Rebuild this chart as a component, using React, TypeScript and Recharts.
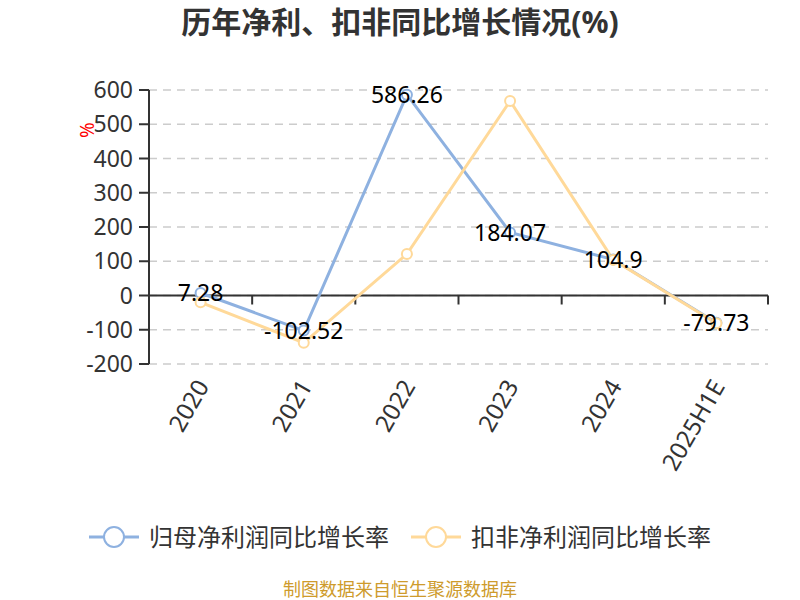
import React from "react";
import {
  CartesianGrid,
  LabelList,
  Line,
  LineChart,
  ReferenceLine,
  XAxis,
  YAxis,
} from "recharts";

const years = ["2020", "2021", "2022", "2023", "2024", "2025H1E"];
const netProfitGrowth = [7.28, -102.52, 586.26, 184.07, 104.9, -79.73];
const deductedGrowth = [-20, -138, 121, 568, 104, -81];
const yTicks = [-200, -100, 0, 100, 200, 300, 400, 500, 600];

const BLUE = "#8EB1E0";
const YELLOW = "#FFD999";
const FONT = '"Noto Sans", "Noto Sans CJK SC", sans-serif';

const W = 800;
const H = 600;
const margin = { top: 90, right: 32, bottom: 136, left: 0 };
const yAxisWidth = 149;
const plotWidth = W - margin.left - margin.right - yAxisWidth;
const halfBand = plotWidth / (years.length * 2);

const data = years.map((year, i) => ({
  year,
  np: netProfitGrowth[i],
  kf: deductedGrowth[i],
}));

function XTick({ x, y, payload }: any) {
  const tx = x + 2;
  const ty = y + 10;
  return (
    <text
      x={tx}
      y={ty}
      transform={`rotate(-60 ${tx} ${ty})`}
      textAnchor="end"
      dy="0.35em"
      fill="#333"
      fontSize={24}
    >
      {payload.value}
    </text>
  );
}

// zero line with tick marks at category boundaries, like an axis "on zero"
function ZeroAxis(props: any) {
  const { x1, y1, x2 } = props;
  const marks = [];
  for (let i = 0; i <= years.length; i++) {
    const x = x1 + ((x2 - x1) * i) / years.length;
    marks.push(<line key={i} x1={x} y1={y1} x2={x} y2={y1 + 9} stroke="#333" strokeWidth={2} />);
  }
  return (
    <g>
      <line x1={x1} y1={y1} x2={x2} y2={y1} stroke="#333" strokeWidth={2} />
      {marks}
    </g>
  );
}

function ValueLabel(p: any) {
  const x = p.x ?? p.viewBox?.x;
  const y = p.y ?? p.viewBox?.y;
  return (
    <text x={x} y={y} textAnchor="middle" dy="0.35em" fill="#000" fontSize={23}>
      {p.value}
    </text>
  );
}

function LegendIcon({ color }: { color: string }) {
  return (
    <svg width={50} height={24} style={{ display: "block" }}>
      <line x1={0} y1={12} x2={50} y2={12} stroke={color} strokeWidth={3} />
      <circle cx={25} cy={12} r={10} fill="#fff" stroke={color} strokeWidth={2} />
    </svg>
  );
}

export default function App() {
  return (
    <div
      style={{
        position: "absolute",
        left: 0,
        top: 0,
        width: W,
        height: H,
        background: "#fff",
        fontFamily: FONT,
      }}
    >
      <div
        style={{
          position: "absolute",
          top: 2,
          width: W,
          textAlign: "center",
          fontSize: 30,
          lineHeight: "40px",
          fontWeight: "bold",
          color: "#333",
        }}
      >
        历年净利、扣非同比增长情况(%)
      </div>
      <div
        style={{
          position: "absolute",
          left: 79,
          top: 118,
          color: "red",
          fontSize: 19,
          lineHeight: "24px",
          transform: "rotate(-90deg)",
        }}
      >
        %
      </div>
      <LineChart width={W} height={H} data={data} margin={margin}>
        <CartesianGrid vertical={false} stroke="#ccc" strokeDasharray="8 6" strokeWidth={1.5} />
        <XAxis
          dataKey="year"
          axisLine={false}
          tickLine={false}
          height={100}
          interval={0}
          padding={{ left: halfBand, right: halfBand }}
          tick={<XTick />}
        />
        <YAxis
          width={yAxisWidth}
          domain={[-200, 600]}
          ticks={yTicks}
          interval={0}
          axisLine={{ stroke: "#333", strokeWidth: 2 }}
          tickLine={{ stroke: "#333", strokeWidth: 2 }}
          tickSize={10}
          tickMargin={6}
          tick={{ fill: "#333", fontSize: 23 }}
        />
        <ReferenceLine y={0} shape={<ZeroAxis />} />
        <Line
          dataKey="np"
          stroke={BLUE}
          strokeWidth={3}
          dot={{ r: 5, fill: "#fff", stroke: BLUE, strokeWidth: 2 }}
          isAnimationActive={false}
        >
          <LabelList dataKey="np" content={<ValueLabel />} />
        </Line>
        <Line
          dataKey="kf"
          stroke={YELLOW}
          strokeWidth={3}
          dot={{ r: 5, fill: "#fff", stroke: YELLOW, strokeWidth: 2 }}
          isAnimationActive={false}
        />
      </LineChart>
      <div
        style={{
          position: "absolute",
          top: 522,
          left: 0,
          width: W,
          display: "flex",
          justifyContent: "center",
          alignItems: "center",
          fontSize: 24,
          lineHeight: "30px",
          color: "#333",
        }}
      >
        <LegendIcon color={BLUE} />
        <span style={{ marginLeft: 10, marginRight: 22 }}>归母净利润同比增长率</span>
        <LegendIcon color={YELLOW} />
        <span style={{ marginLeft: 10 }}>扣非净利润同比增长率</span>
      </div>
      <div
        style={{
          position: "absolute",
          top: 578,
          width: W,
          textAlign: "center",
          fontSize: 18,
          lineHeight: "22px",
          color: "#CE9B2C",
        }}
      >
        制图数据来自恒生聚源数据库
      </div>
    </div>
  );
}
